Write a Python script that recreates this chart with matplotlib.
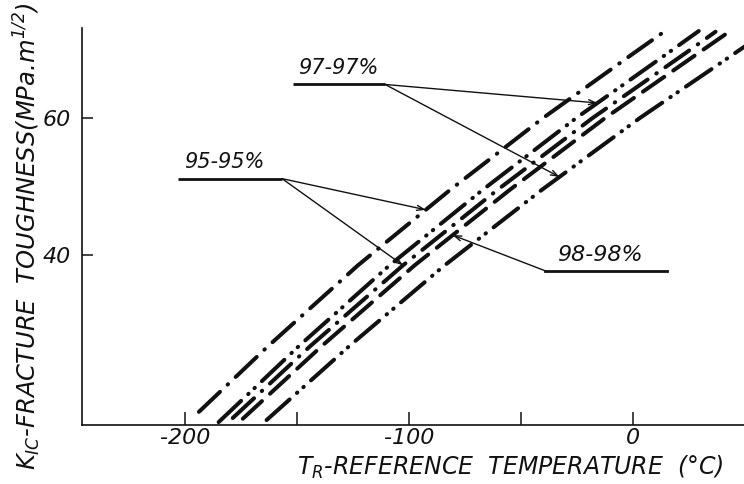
import numpy as np
import matplotlib
matplotlib.use("Agg")
import matplotlib.pyplot as plt

plt.rcParams['font.family'] = ['DejaVu Sans']
plt.rcParams['font.style'] = 'italic'
plt.rcParams['mathtext.fontset'] = 'dejavusans'
plt.rcParams['lines.scale_dashes'] = False

# reference temperature T_R (degC) and K_IC (MPa.m^1/2)
c1_T = [-193.8, -162.9, -122.8, -81.7, -40.2, 0.4, 14.7]
c1_K = [17.1, 26.7, 38.5, 49.5, 60.0, 69.5, 72.8]
c2_T = [-185.0, -149.2, -108.7, -67.2, -25.4, 15.6, 29.3]
c2_K = [15.6, 26.7, 38.5, 49.5, 60.0, 69.5, 72.7]
c3_T = [-178.7, -144.1, -102.7, -60.6, -18.1, 23.5, 36.8]
c3_K = [16.2, 26.7, 38.5, 49.5, 60.0, 69.5, 72.6]
c4_T = [-174.2, -139.0, -97.5, -55.1, -12.5, 29.2, 42.0]
c4_K = [16.1, 26.7, 38.5, 49.5, 60.0, 69.5, 72.4]
c5_T = [-163.6, -126.7, -84.1, -40.8, 3.0, 45.6, 60.3]
c5_K = [15.9, 26.7, 38.5, 49.5, 60.0, 69.5, 72.8]

x_ticks = [-200, -150, -100, -50, 0]
x_ticklabels = ['-200', '', '-100', '', '0']
y_ticks = [40, 60]
y_ticklabels = ['40', '60']

dash_dot = (0, (20.9, 7.6, 0.4, 7.6))
dash_dot_dot = (0, (22.3, 7.0, 0.4, 5.8, 0.4, 7.0))
dashed = (0, (18.7, 7.9))

fig = plt.figure(figsize=(7.44, 4.84), dpi=100)
ax = fig.add_axes([0.1102, 0.1219, 0.8898, 0.8202])

curves = [(c1_T, c1_K, dash_dot), (c2_T, c2_K, dash_dot_dot),
          (c3_T, c3_K, dash_dot), (c4_T, c4_K, dashed),
          (c5_T, c5_K, dash_dot_dot)]
for T, K, ls in curves:
    ax.plot(T, K, color='#111111', lw=2.9, linestyle=ls,
            dash_capstyle='round', solid_capstyle='round')

ax.set_xlim(-246, 49.5)
ax.set_ylim(15.18, 73.14)
for s in ['top', 'right']:
    ax.spines[s].set_visible(False)
for s in ['left', 'bottom']:
    ax.spines[s].set_linewidth(1.2)
    ax.spines[s].set_color('#111111')

ax.set_xticks(x_ticks)
ax.set_xticklabels(x_ticklabels, fontsize=16)
ax.set_yticks(y_ticks)
ax.set_yticklabels(y_ticklabels, fontsize=16)
ax.tick_params(axis='x', direction='in', length=9.5, width=1.1, pad=2,
               colors='#111111')
ax.tick_params(axis='y', direction='in', length=8, width=1.1, pad=8,
               colors='#111111')


def label(text, under_x0, under_x1, under_y, targets):
    # underline, text on it, thin arrows to the curves
    ax.plot([under_x0, under_x1], [under_y, under_y], color='#111111',
            lw=2.0, solid_capstyle='butt')
    ax.text(under_x0 + 0.06 * (under_x1 - under_x0), under_y + 0.9, text,
            fontsize=15, ha='left', va='bottom', color='#111111')
    for tx, ty in targets:
        ax.annotate('', xy=(tx, ty), xytext=(under_x1, under_y),
                    arrowprops=dict(arrowstyle='->,head_length=0.5,head_width=0.18',
                                    lw=1.0, color='#111111',
                                    shrinkA=0, shrinkB=0))


label('97-97%', -151.8, -110.7, 64.9,
      [(np.interp(62.2, c2_K, c2_T), 62.2), (np.interp(51.4, c5_K, c5_T), 51.4)])
label('95-95%', -203.1, -156.7, 51.15,
      [(np.interp(46.6, c1_K, c1_T), 46.6), (np.interp(38.5, c3_K, c3_T), 38.5)])

# 98-98% has its arrow leaving from the left end of the underline
ax.plot([-39.3, 15.2], [37.7, 37.7], color='#111111', lw=2.0)
ax.text(-34.0, 38.6, '98-98%', fontsize=16, ha='left', va='bottom',
        color='#111111')
ax.annotate('', xy=(np.interp(42.9, c4_K, c4_T), 42.9), xytext=(-39.3, 37.7),
            arrowprops=dict(arrowstyle='->,head_length=0.5,head_width=0.18',
                            lw=1.0, color='#111111', shrinkA=0, shrinkB=0))

fig.text(510 / 744, 1 - 467 / 484, r'T$_R$-REFERENCE  TEMPERATURE  (°C)',
         fontsize=17, ha='center', va='center', color='#111111')
fig.text(27 / 744, 1 - 236 / 484,
         r'$K_{IC}$-FRACTURE  TOUGHNESS(MPa.m$^{1/2}$)',
         fontsize=17.5, ha='center', va='center', rotation=90, color='#111111')

fig.savefig('out.png', dpi=100, facecolor='white')
